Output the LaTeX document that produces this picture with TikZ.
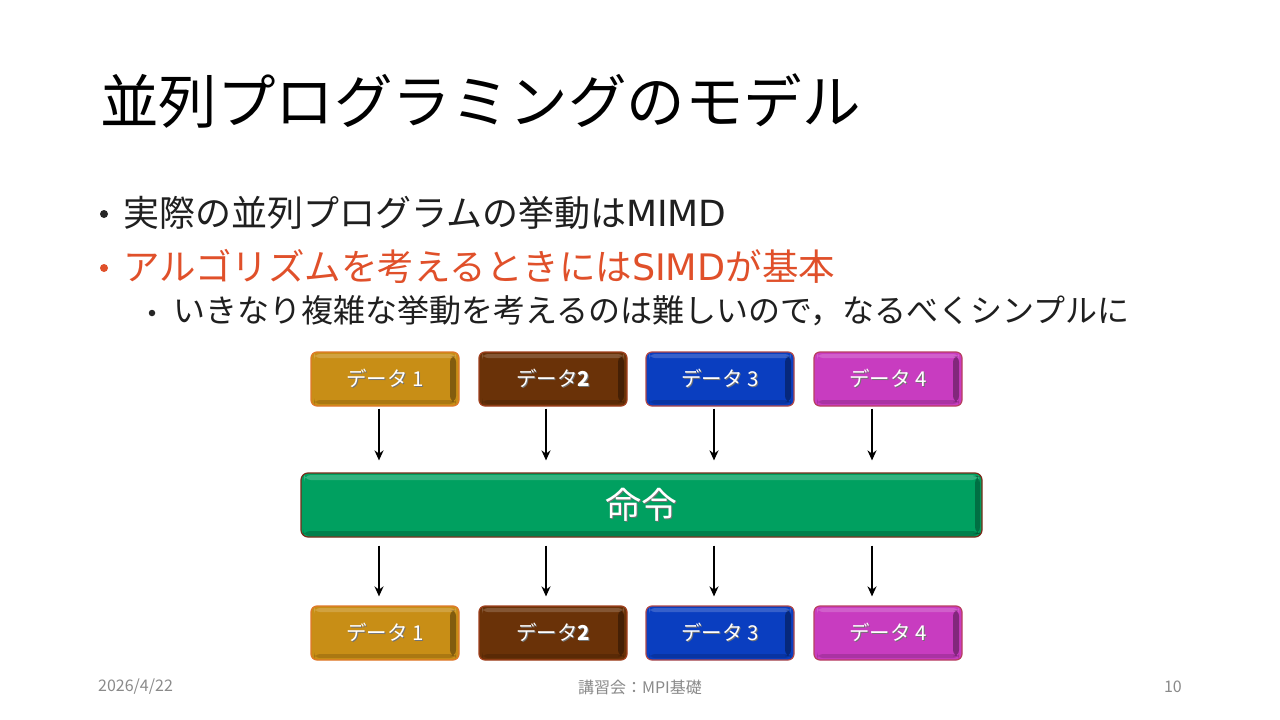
\documentclass[tikz,border=0pt]{standalone}
\usepackage{fontspec}
\setmainfont{Noto Sans CJK JP}
\newfontfamily\jp{Noto Sans CJK JP}
\newfontfamily\lat{DejaVu Sans}
\usetikzlibrary{arrows.meta}
\definecolor{txtred}{HTML}{E0502A}
\definecolor{cgold}{HTML}{C88E16}
\definecolor{bgold}{HTML}{E0782A}
\definecolor{cbrown}{HTML}{6A3208}
\definecolor{bbrown}{HTML}{A0401E}
\definecolor{cblue}{HTML}{0A3EC0}
\definecolor{bblue}{HTML}{B04848}
\definecolor{cmag}{HTML}{C83CC0}
\definecolor{bmag}{HTML}{B84060}
\definecolor{cgreen}{HTML}{00A060}
\definecolor{bgreen}{HTML}{7A2A1A}
\definecolor{footgray}{HTML}{8A8A8A}
\newcommand{\shtx}[1]{\makebox[0pt][l]{\hspace{1.2pt}\raisebox{-1.2pt}{\textcolor{black!55}{#1}}}#1}
\tikzset{
  databox/.style={draw=#1, line width=1.2pt, rounded corners=6pt, minimum width=148pt, minimum height=54pt,
    text=white, font=\jp\fontsize{20.5}{23}\selectfont, inner sep=0pt,
    path picture={
      \fill[black,opacity=0.35] ([xshift=-9pt,yshift=-4pt]path picture bounding box.north east) rectangle ([xshift=-3pt,yshift=4pt]path picture bounding box.south east);
      \fill[white,opacity=0.18] ([xshift=3pt,yshift=-2pt]path picture bounding box.north west) rectangle ([xshift=-3pt,yshift=-6pt]path picture bounding box.north east);
      \fill[black,opacity=0.15] ([xshift=3pt,yshift=6pt]path picture bounding box.south west) rectangle ([xshift=-3pt,yshift=2pt]path picture bounding box.south east);
    }},
  cmdbox/.style={draw=bgreen, line width=1.2pt, fill=cgreen, rounded corners=7pt, minimum width=681pt, minimum height=64pt,
    text=white, font=\jp\fontsize{36}{40}\selectfont, inner sep=0pt,
    path picture={
      \fill[white,opacity=0.2] ([xshift=3pt,yshift=-2pt]path picture bounding box.north west) rectangle ([xshift=-3pt,yshift=-7pt]path picture bounding box.north east);
      \fill[black,opacity=0.3] ([xshift=-7pt,yshift=-3pt]path picture bounding box.north east) rectangle ([xshift=-2pt,yshift=3pt]path picture bounding box.south east);
      \fill[black,opacity=0.2] ([xshift=2pt,yshift=6pt]path picture bounding box.south west) rectangle ([xshift=-2pt,yshift=1pt]path picture bounding box.south east);
    }},
  arr/.style={line width=2pt, -{Stealth[length=10pt,width=9pt]}},
  bul/.style={circle, inner sep=0pt, minimum size=8pt},
  foot/.style={text=footgray, font=\jp\fontsize{16}{18}\selectfont, inner sep=0pt}
}
\begin{document}
\begin{tikzpicture}[x=1pt,y=-1pt]
\useasboundingbox[fill=white] (0,0) rectangle (1280,720);
% title
\node[anchor=west, inner sep=0pt, font=\jp\fontsize{58.5}{62}\selectfont] (title) at (100,101) {並列プログラミングのモデル};
% bullets
\node[bul, fill=black!85] (b1) at (104,214) {};
\node[anchor=west, inner sep=0pt, text=black!88, font=\jp\fontsize{36}{40}\selectfont] (t1) at (123,213) {実際の並列プログラムの挙動は{\lat MIMD}};
\node[bul, fill=txtred] (b2) at (104,268) {};
\node[anchor=west, inner sep=0pt, text=txtred, font=\jp\fontsize{36.5}{40}\selectfont] (t2) at (123,266) {アルゴリズムを考えるときには{\lat SIMD}が基本};
\node[bul, fill=black!85, minimum size=6.5pt] (b3) at (152,313) {};
\node[anchor=west, inner sep=0pt, text=black!88, font=\jp\fontsize{32}{36}\selectfont] (t3) at (173,311) {いきなり複雑な挙動を考えるのは難しいので，なるべくシンプルに};
% top data boxes
\node[databox=bgold, fill=cgold] (d1) at (385,379) {\shtx{データ 1}};
\node[databox=bbrown, fill=cbrown] (d2) at (553,379) {\shtx{データ\textbf{2}}};
\node[databox=bblue, fill=cblue] (d3) at (720,379) {\shtx{データ 3}};
\node[databox=bmag, fill=cmag] (d4) at (888,379) {\shtx{データ 4}};
% command
\node[cmdbox] (cmd) at (641.5,505) {\shtx{命令}};
% bottom data boxes
\node[databox=bgold, fill=cgold] (e1) at (385,633) {\shtx{データ 1}};
\node[databox=bbrown, fill=cbrown] (e2) at (553,633) {\shtx{データ\textbf{2}}};
\node[databox=bblue, fill=cblue] (e3) at (720,633) {\shtx{データ 3}};
\node[databox=bmag, fill=cmag] (e4) at (888,633) {\shtx{データ 4}};
% arrows top
\draw[arr, shorten <=2pt, shorten >=12pt] ([xshift=-6pt]d1.south) -- ([xshift=-6pt]d1.south |- cmd.north);
\draw[arr, shorten <=2pt, shorten >=12pt] ([xshift=-7pt]d2.south) -- ([xshift=-7pt]d2.south |- cmd.north);
\draw[arr, shorten <=2pt, shorten >=12pt] ([xshift=-6pt]d3.south) -- ([xshift=-6pt]d3.south |- cmd.north);
\draw[arr, shorten <=2pt, shorten >=12pt] ([xshift=-16pt]d4.south) -- ([xshift=-16pt]d4.south |- cmd.north);
% arrows bottom
\draw[arr, shorten <=8pt, shorten >=9pt] ([xshift=-6pt]e1.north |- cmd.south) -- ([xshift=-6pt]e1.north);
\draw[arr, shorten <=8pt, shorten >=9pt] ([xshift=-7pt]e2.north |- cmd.south) -- ([xshift=-7pt]e2.north);
\draw[arr, shorten <=8pt, shorten >=9pt] ([xshift=-6pt]e3.north |- cmd.south) -- ([xshift=-6pt]e3.north);
\draw[arr, shorten <=8pt, shorten >=9pt] ([xshift=-16pt]e4.north |- cmd.south) -- ([xshift=-16pt]e4.north);
% footer
\node[foot, anchor=west] (date) at (98,687) {2026/4/22};
\node[foot] (ftitle) at (640,687) {講習会：MPI基礎};
\node[foot, anchor=east] (page) at (1182,687) {10};
\end{tikzpicture}
\end{document}
